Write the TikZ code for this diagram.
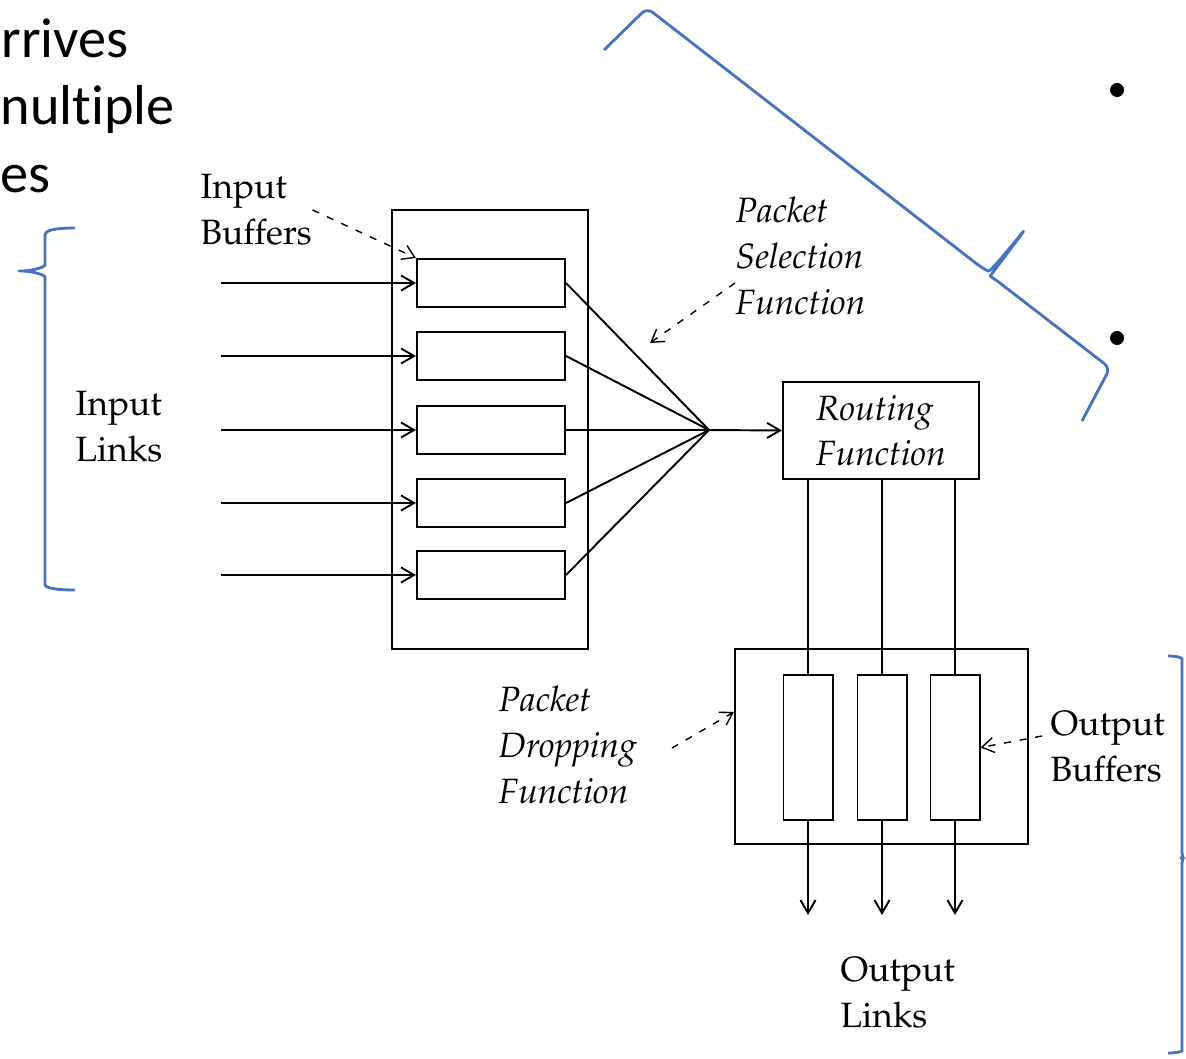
\documentclass[tikz,border=0pt]{standalone}
\usepackage[T1]{fontenc}
\usepackage{fontspec}
\usetikzlibrary{arrows.meta}
\newfontfamily\slidefont[Ligatures=NoCommon]{Carlito}
\newcommand\figfont{\fontencoding{T1}\fontfamily{ppl}\selectfont}
\definecolor{braceblue}{HTML}{4472C4}

\begin{document}
\begin{tikzpicture}[x=0.01cm, y=-0.01cm,
    >={Straight Barb[length=1.3mm,width=1.5mm]},
    every node/.style={font=\figfont\fontsize{10}{13}\selectfont},
    box/.style={draw, line width=0.55pt, inner sep=0pt},
    lbl/.style={anchor=west, align=left, inner sep=0pt},
    itlbl/.style={lbl, font=\figfont\itshape\fontsize{10}{13}\selectfont},
    link/.style={line width=0.55pt},
    pointer/.style={line width=0.4pt, dash pattern=on 2pt off 2.5pt, -{Straight Barb[length=1.2mm,width=1.5mm]}},
    slidetxt/.style={font=\slidefont\fontsize{16}{19.5}\selectfont, inner sep=0pt, anchor=base west},
    brace/.style={braceblue, line width=0.8pt, line join=round, rounded corners=2pt}
  ]
  \useasboundingbox (0,0) rectangle (1186,1058);

  % slide text behind the figure
  \node[slidetxt] (w1) at (1,58) {rrives};
  \node[slidetxt] (w2) at (0,125) {nultiple};
  \node[slidetxt] (w3) at (0,193) {es};
  \node[circle, fill, inner sep=0pt, minimum size=0.14cm] (b1) at (1117,90) {};
  \node[circle, fill, inner sep=0pt, minimum size=0.14cm] (b2) at (1117,338) {};

  % input side
  \node[box, minimum width=1.96cm, minimum height=4.39cm] (inbox) at (490,429.5) {};
  \coordinate (hub) at (709,430);
  \foreach \i/\yy in {1/283, 2/356, 3/430, 4/503, 5/575} {
    \node[box, minimum width=1.48cm, minimum height=0.48cm] (ib\i) at (491,\yy) {};
    \coordinate (il\i) at (221,\yy);
    \draw[link, ->] (il\i) -- (ib\i.west);
    \draw[link] (ib\i.east) -- (hub);
  }

  \node[box, minimum width=1.96cm, minimum height=0.97cm, align=left,
    font=\figfont\itshape\fontsize{10}{13}\selectfont] (route) at (881,430.5) {Routing\\Function};
  \draw[link, ->] (hub) -- (route.west);

  % output side
  \node[box, minimum width=2.93cm, minimum height=1.95cm] (outbox) at (881.5,746.5) {};
  \foreach \i/\xx in {1/808, 2/882, 3/955} {
    \node[box, minimum width=0.49cm, minimum height=1.45cm] (ob\i) at (\xx,747.5) {};
    \coordinate (ol\i) at (\xx,915);
    \draw[link] (ob\i.north |- route.south) -- (ob\i.north);
    \draw[link, ->] (ob\i.south) -- (ol\i);
  }

  % labels
  \node[lbl] (lbin) at (200,210) {Input\\Buffers};
  \node[lbl] (lblinks) at (75,427) {Input\\Links};
  \node[itlbl] (lbsel) at (735,256) {Packet\\Selection\\Function};
  \node[itlbl] (lbdrop) at (498,745) {Packet\\Dropping\\Function};
  \node[lbl] (lbout) at (1050,747) {Output\\Buffers};
  \node[lbl] (lbolinks) at (840,993) {Output\\Links};

  \coordinate (selpt) at (650,343);
  \coordinate (droppt) at (672,748);
  \draw[pointer] (lbin.east) -- (ib1.north west);
  \draw[pointer] ([yshift=-0.27cm]lbsel.west) -- (selpt);
  \draw[pointer] (droppt) -- ([yshift=0.345cm]outbox.west);
  \draw[pointer] ([xshift=-0.08cm, yshift=0.11cm]lbout.west) -- (ob3.east);

  % blue braces
  \draw[brace] (75,228) .. controls (52,228) and (45,231) .. (45,242) -- (45,258)
    .. controls (45,267) and (32,271) .. (15,271) .. controls (32,271) and (45,275) .. (45,284)
    -- (45,578) .. controls (45,587) and (52,590) .. (75,590);
  \draw[brace] (1168,656) .. controls (1178,656) and (1182,658) .. (1182,666) -- (1182,846)
    .. controls (1182,854) and (1184,858) .. (1188,858) .. controls (1184,858) and (1182,862) .. (1182,870)
    -- (1182,1044) .. controls (1182,1051) and (1178,1053) .. (1168,1053);
  \draw[brace] (604,50) -- (647,8) -- (982,268) .. controls (990,272) and (1010,248) .. (1026,228)
    .. controls (1010,250) and (990,276) .. (996,280) -- (1110,368) -- (1082,421);
\end{tikzpicture}
\end{document}
